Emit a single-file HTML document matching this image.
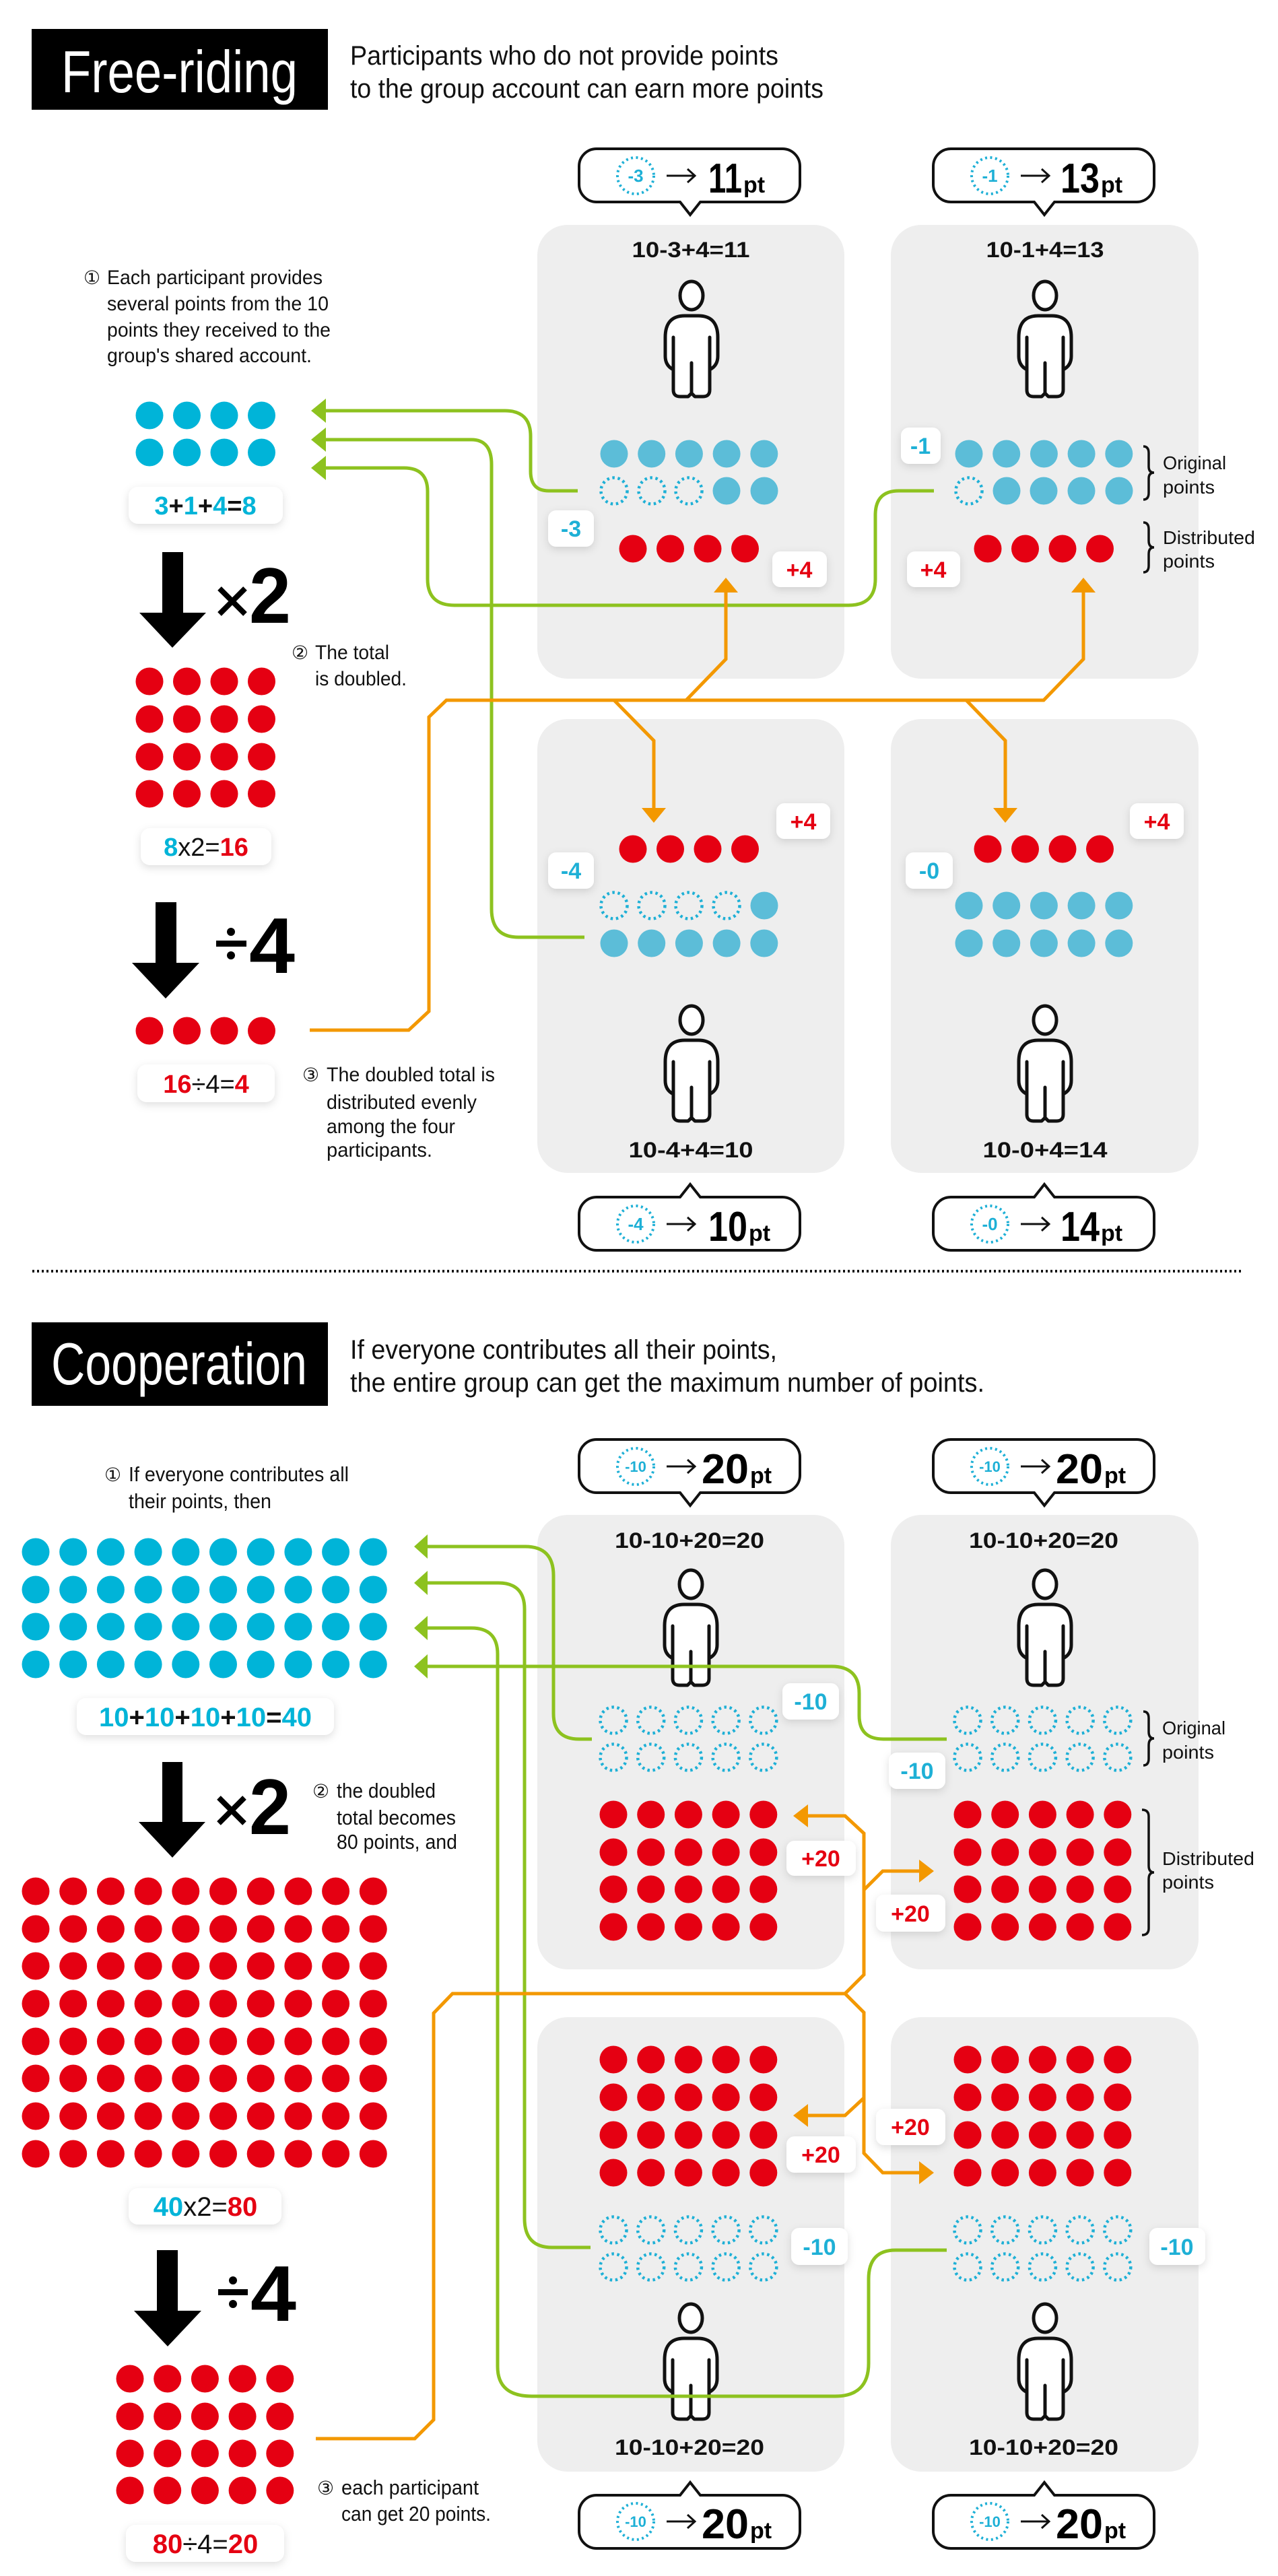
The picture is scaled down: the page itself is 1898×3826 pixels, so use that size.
<!DOCTYPE html>
<html><head><meta charset="utf-8"><style>
html,body{margin:0;padding:0;background:#fff}
svg{display:block}
text{font-family:"Liberation Sans","DejaVu Sans",sans-serif}
.c{font-family:"DejaVu Sans","Liberation Sans",sans-serif}
</style></head><body>
<svg width="1898" height="3826" viewBox="0 0 1898 3826" xmlns="http://www.w3.org/2000/svg">
<defs>
<filter id="sh" x="-30%" y="-40%" width="160%" height="180%"><feDropShadow dx="0" dy="4" stdDeviation="6" flood-color="#000" flood-opacity="0.13"/></filter>
<circle id="b" r="20.5" fill="#00b4d8"/>
<circle id="lb" r="20.5" fill="#5cbdd8"/>
<circle id="r" r="20.5" fill="#e50012"/>
<circle id="d" r="19.5" fill="none" stroke="#1eb0d6" stroke-width="4.5" stroke-dasharray="3.5 4.6"/>
<g id="R4"><use href="#r" x="0"/><use href="#r" x="55.5"/><use href="#r" x="111"/><use href="#r" x="166.5"/></g>
<g id="B4"><use href="#b" x="0"/><use href="#b" x="55.5"/><use href="#b" x="111"/><use href="#b" x="166.5"/></g>
<g id="R5"><use href="#r" x="0"/><use href="#r" x="55.7"/><use href="#r" x="111.4"/><use href="#r" x="167.1"/><use href="#r" x="222.8"/></g>
<g id="LB5"><use href="#lb" x="0"/><use href="#lb" x="55.7"/><use href="#lb" x="111.4"/><use href="#lb" x="167.1"/><use href="#lb" x="222.8"/></g>
<g id="D5"><use href="#d" x="0"/><use href="#d" x="55.7"/><use href="#d" x="111.4"/><use href="#d" x="167.1"/><use href="#d" x="222.8"/></g>
<g id="R10"><use href="#R5" x="0"/><use href="#R5" x="278.5"/></g>
<g id="B10"><use href="#b" x="0"/><use href="#b" x="55.7"/><use href="#b" x="111.4"/><use href="#b" x="167.1"/><use href="#b" x="222.8"/><use href="#b" x="278.5"/><use href="#b" x="334.2"/><use href="#b" x="389.9"/><use href="#b" x="445.6"/><use href="#b" x="501.3"/></g>
<g id="P" fill="#fff" stroke="#111" stroke-width="5" stroke-linejoin="round" stroke-linecap="round">
<ellipse rx="17" ry="21"/>
<path d="M-39,62 Q-39,30 -10,30 H10 Q39,30 39,62 V90 Q39,104 27,110 V140 Q27,150 17,150 H5 L0,145 L-5,150 H-17 Q-27,150 -27,140 V110 Q-39,104 -39,90 Z"/>
<path d="M-27,62 V110 M27,62 V110 M0,100 V145" fill="none"/>
</g>
<path id="bub" d="M26,0 H302 A26,26 0 0 1 328,26 V53 A26,26 0 0 1 302,79 H180 L165,98 L150,79 H26 A26,26 0 0 1 0,53 V26 A26,26 0 0 1 26,0 Z" fill="#fff" stroke="#111" stroke-width="4"/>
<path id="arr" d="M0,0 H42 M31,-10 L42,0 L31,10" fill="none" stroke="#111" stroke-width="3"/>
<circle id="bc" r="27" fill="none" stroke="#1eb0d6" stroke-width="4" stroke-dasharray="3 4.5"/>
</defs>

<!-- ============ FREE-RIDING ============ -->
<rect x="47" y="43" width="440" height="120" fill="#000"/>
<text x="91" y="137" font-size="88" fill="#fff" textLength="351" lengthAdjust="spacingAndGlyphs">Free-riding</text>
<text x="520" y="96" font-size="40" fill="#111" textLength="636" lengthAdjust="spacingAndGlyphs">Participants who do not provide points</text>
<text x="520" y="145" font-size="40" fill="#111" textLength="703" lengthAdjust="spacingAndGlyphs">to the group account can earn more points</text>

<use href="#bub" transform="translate(860,221)"/>
<use href="#bub" transform="translate(1386,221)"/>
<use href="#bub" transform="translate(860,1857) scale(1,-1)"/>
<use href="#bub" transform="translate(1386,1857) scale(1,-1)"/>
<g font-weight="bold">
<use href="#bc" x="944" y="261"/>
<text x="944" y="270" font-size="26" fill="#1eb0d6" text-anchor="middle">-3</text>
<use href="#arr" x="990" y="261"/>
<text x="1052" y="286" font-size="62" textLength="50" lengthAdjust="spacingAndGlyphs">11</text>
<text x="1104" y="286" font-size="34">pt</text>

<use href="#bc" x="1470" y="261"/>
<text x="1470" y="270" font-size="26" fill="#1eb0d6" text-anchor="middle">-1</text>
<use href="#arr" x="1516" y="261"/>
<text x="1575" y="286" font-size="62" textLength="58" lengthAdjust="spacingAndGlyphs">13</text>
<text x="1635" y="286" font-size="34">pt</text>

<use href="#bc" x="944" y="1818"/>
<text x="944" y="1827" font-size="26" fill="#1eb0d6" text-anchor="middle">-4</text>
<use href="#arr" x="990" y="1818"/>
<text x="1052" y="1843" font-size="62" textLength="58" lengthAdjust="spacingAndGlyphs">10</text>
<text x="1112" y="1843" font-size="34">pt</text>

<use href="#bc" x="1470" y="1818"/>
<text x="1470" y="1827" font-size="26" fill="#1eb0d6" text-anchor="middle">-0</text>
<use href="#arr" x="1516" y="1818"/>
<text x="1575" y="1843" font-size="62" textLength="58" lengthAdjust="spacingAndGlyphs">14</text>
<text x="1635" y="1843" font-size="34">pt</text>
</g>

<g fill="#eeeeee">
<rect x="798" y="334" width="456" height="674" rx="45"/>
<rect x="1323" y="334" width="457" height="674" rx="45"/>
<rect x="798" y="1068" width="456" height="674" rx="45"/>
<rect x="1323" y="1068" width="457" height="674" rx="45"/>
</g>
<g font-weight="bold" font-size="32" fill="#111" text-anchor="middle">
<text x="1026" y="382" textLength="175" lengthAdjust="spacingAndGlyphs">10-3+4=11</text>
<text x="1552" y="382" textLength="175" lengthAdjust="spacingAndGlyphs">10-1+4=13</text>
<text x="1026" y="1719" textLength="185" lengthAdjust="spacingAndGlyphs">10-4+4=10</text>
<text x="1552" y="1719" textLength="185" lengthAdjust="spacingAndGlyphs">10-0+4=14</text>
</g>
<use href="#P" x="1027" y="439"/>
<use href="#P" x="1552" y="439"/>
<use href="#P" x="1027" y="1515"/>
<use href="#P" x="1552" y="1515"/>

<use href="#LB5" x="912" y="674"/>
<use href="#d" x="912" y="729"/><use href="#d" x="968" y="729"/><use href="#d" x="1023" y="729"/><use href="#lb" x="1079" y="729"/><use href="#lb" x="1135" y="729"/>
<use href="#R4" x="940" y="815"/>
<use href="#LB5" x="1439" y="674"/>
<use href="#d" x="1439" y="729"/><use href="#lb" x="1495" y="729"/><use href="#lb" x="1550" y="729"/><use href="#lb" x="1606" y="729"/><use href="#lb" x="1662" y="729"/>
<use href="#R4" x="1467" y="815"/>
<use href="#R4" x="940" y="1261"/>
<use href="#d" x="912" y="1345"/><use href="#d" x="968" y="1345"/><use href="#d" x="1023" y="1345"/><use href="#d" x="1079" y="1345"/><use href="#lb" x="1135" y="1345"/>
<use href="#LB5" x="912" y="1401"/>
<use href="#R4" x="1467" y="1261"/>
<use href="#LB5" x="1439" y="1345"/>
<use href="#LB5" x="1439" y="1401"/>

<g fill="none" stroke="#111" stroke-width="3.5">
<path d="M1698,663 Q1706,663 1706,673 V693 Q1706,702 1714,702 Q1706,702 1706,711 V732 Q1706,742 1698,742"/>
<path d="M1698,776 Q1706,776 1706,786 V803 Q1706,813 1714,813 Q1706,813 1706,823 V840 Q1706,850 1698,850"/>
</g>
<g font-size="28" fill="#111">
<text x="1727" y="697" textLength="94" lengthAdjust="spacingAndGlyphs">Original</text>
<text x="1727" y="733" textLength="77" lengthAdjust="spacingAndGlyphs">points</text>
<text x="1727" y="808" textLength="137" lengthAdjust="spacingAndGlyphs">Distributed</text>
<text x="1727" y="843" textLength="77" lengthAdjust="spacingAndGlyphs">points</text>
</g>

<text class="c" x="124" y="422" font-size="28" fill="#111">①</text>
<g font-size="30" fill="#111">
<text x="159" y="422" textLength="320" lengthAdjust="spacingAndGlyphs">Each participant provides</text>
<text x="159" y="461" textLength="329" lengthAdjust="spacingAndGlyphs">several points from the 10</text>
<text x="159" y="500" textLength="332" lengthAdjust="spacingAndGlyphs">points they received to the</text>
<text x="159" y="538" textLength="304" lengthAdjust="spacingAndGlyphs">group's shared account.</text>
</g>
<use href="#B4" x="222" y="617"/>
<use href="#B4" x="222" y="672"/>
<rect x="191" y="723" width="229" height="55" rx="14" fill="#fff" filter="url(#sh)"/>
<text x="305" y="764" font-size="38" font-weight="bold" text-anchor="middle"><tspan fill="#00b4d8">3</tspan><tspan fill="#111">+</tspan><tspan fill="#00b4d8">1</tspan><tspan fill="#111">+</tspan><tspan fill="#00b4d8">4</tspan><tspan fill="#111">=</tspan><tspan fill="#00b4d8">8</tspan></text>
<polygon points="241,820 272,820 272,910 306,910 256,962 207,910 241,910" fill="#000"/>
<path d="M326,874 L364,912 M364,874 L326,912" stroke="#000" stroke-width="8"/>
<text x="370" y="925" font-size="117" font-weight="bold" fill="#000" textLength="62" lengthAdjust="spacingAndGlyphs">2</text>
<text class="c" x="433" y="979" font-size="28" fill="#111">②</text>
<g font-size="30" fill="#111">
<text x="468" y="979" textLength="110" lengthAdjust="spacingAndGlyphs">The total</text>
<text x="468" y="1018" textLength="136" lengthAdjust="spacingAndGlyphs">is doubled.</text>
</g>
<use href="#R4" x="222" y="1012"/>
<use href="#R4" x="222" y="1068"/>
<use href="#R4" x="222" y="1124"/>
<use href="#R4" x="222" y="1179"/>
<rect x="209" y="1230" width="194" height="55" rx="14" fill="#fff" filter="url(#sh)"/>
<text x="306" y="1271" font-size="38" text-anchor="middle"><tspan fill="#00b4d8" font-weight="bold">8</tspan><tspan fill="#111">x2=</tspan><tspan fill="#e50012" font-weight="bold">16</tspan></text>
<polygon points="231,1340 262,1340 262,1430 296,1430 246,1483 196,1430 231,1430" fill="#000"/>
<g fill="#000"><rect x="321" y="1397" width="45" height="9"/><circle cx="343" cy="1384" r="6"/><circle cx="343" cy="1419" r="6"/></g>
<text x="370" y="1445" font-size="117" font-weight="bold" fill="#000" textLength="68" lengthAdjust="spacingAndGlyphs">4</text>
<use href="#R4" x="222" y="1531"/>
<rect x="204" y="1581" width="204" height="56" rx="14" fill="#fff" filter="url(#sh)"/>
<text x="306" y="1623" font-size="38" text-anchor="middle"><tspan fill="#e50012" font-weight="bold">16</tspan><tspan fill="#111">÷4=</tspan><tspan fill="#e50012" font-weight="bold">4</tspan></text>
<text class="c" x="449" y="1606" font-size="28" fill="#111">③</text>
<g font-size="30" fill="#111">
<text x="485" y="1606" textLength="250" lengthAdjust="spacingAndGlyphs">The doubled total is</text>
<text x="485" y="1647" textLength="223" lengthAdjust="spacingAndGlyphs">distributed evenly</text>
<text x="485" y="1683" textLength="191" lengthAdjust="spacingAndGlyphs">among the four</text>
<text x="485" y="1718" textLength="157" lengthAdjust="spacingAndGlyphs">participants.</text>
</g>

<g fill="none" stroke="#8dc21f" stroke-width="5">
<path d="M480,610 H750 Q788,610 788,648 V700 Q788,729 815,729 H858"/>
<path d="M480,653 H700 Q730,653 730,690 V1350 Q730,1392 770,1392 H868"/>
<path d="M480,695 H600 Q635,695 635,730 V860 Q635,899 675,899 H1260 Q1300,899 1300,860 V765 Q1300,729 1335,729 H1387"/>
</g>
<g fill="#8dc21f">
<polygon points="462,610 484,592 484,628"/>
<polygon points="462,653 484,635 484,671"/>
<polygon points="462,695 484,677 484,713"/>
</g>
<g fill="none" stroke="#f39800" stroke-width="5">
<path d="M460,1530 H607 L637,1502 V1065 L663,1040 H1550 L1609,979 V878"/>
<path d="M1019,1040 L1078,979 V878"/>
<path d="M912,1040 L971,1100 V1202"/>
<path d="M1435,1040 L1493,1100 V1202"/>
</g>
<g fill="#f39800">
<polygon points="1078,858 1096,880 1060,880"/>
<polygon points="1609,858 1627,880 1591,880"/>
<polygon points="971,1222 989,1200 953,1200"/>
<polygon points="1493,1222 1511,1200 1475,1200"/>
</g>

<g filter="url(#sh)" fill="#fff">
<rect x="814" y="758" width="68" height="54" rx="12"/>
<rect x="1147" y="819" width="81" height="53" rx="12"/>
<rect x="1338" y="635" width="59" height="54" rx="12"/>
<rect x="1347" y="819" width="79" height="53" rx="12"/>
<rect x="1153" y="1193" width="80" height="53" rx="12"/>
<rect x="814" y="1266" width="68" height="54" rx="12"/>
<rect x="1678" y="1193" width="80" height="53" rx="12"/>
<rect x="1345" y="1266" width="70" height="54" rx="12"/>
</g>
<g font-size="34" font-weight="bold" text-anchor="middle">
<text x="848" y="797" fill="#1eb0d6">-3</text>
<text x="1187" y="858" fill="#e50012">+4</text>
<text x="1367" y="674" fill="#1eb0d6">-1</text>
<text x="1386" y="858" fill="#e50012">+4</text>
<text x="1193" y="1232" fill="#e50012">+4</text>
<text x="848" y="1305" fill="#1eb0d6">-4</text>
<text x="1718" y="1232" fill="#e50012">+4</text>
<text x="1380" y="1305" fill="#1eb0d6">-0</text>
</g>

<line x1="48" y1="1888" x2="1846" y2="1888" stroke="#111" stroke-width="4" stroke-dasharray="3 4"/>

<!-- ============ COOPERATION ============ -->
<rect x="47" y="1964" width="440" height="124" fill="#000"/>
<text x="76" y="2056" font-size="88" fill="#fff" textLength="380" lengthAdjust="spacingAndGlyphs">Cooperation</text>
<text x="520" y="2018" font-size="40" fill="#111" textLength="634" lengthAdjust="spacingAndGlyphs">If everyone contributes all their points,</text>
<text x="520" y="2067" font-size="40" fill="#111" textLength="942" lengthAdjust="spacingAndGlyphs">the entire group can get the maximum number of points.</text>

<use href="#bub" transform="translate(860,2138)"/>
<use href="#bub" transform="translate(1386,2138)"/>
<use href="#bub" transform="translate(860,3785) scale(1,-1)"/>
<use href="#bub" transform="translate(1386,3785) scale(1,-1)"/>
<g font-weight="bold">
<use href="#bc" x="944" y="2178"/>
<text x="944" y="2186" font-size="22" fill="#1eb0d6" text-anchor="middle">-10</text>
<use href="#arr" x="990" y="2178"/>
<text x="1042" y="2203" font-size="62" textLength="70" lengthAdjust="spacingAndGlyphs">20</text>
<text x="1114" y="2203" font-size="34">pt</text>
<use href="#bc" x="1470" y="2178"/>
<text x="1470" y="2186" font-size="22" fill="#1eb0d6" text-anchor="middle">-10</text>
<use href="#arr" x="1516" y="2178"/>
<text x="1568" y="2203" font-size="62" textLength="70" lengthAdjust="spacingAndGlyphs">20</text>
<text x="1640" y="2203" font-size="34">pt</text>
<use href="#bc" x="944" y="3745"/>
<text x="944" y="3753" font-size="22" fill="#1eb0d6" text-anchor="middle">-10</text>
<use href="#arr" x="990" y="3745"/>
<text x="1042" y="3770" font-size="62" textLength="70" lengthAdjust="spacingAndGlyphs">20</text>
<text x="1114" y="3770" font-size="34">pt</text>
<use href="#bc" x="1470" y="3745"/>
<text x="1470" y="3753" font-size="22" fill="#1eb0d6" text-anchor="middle">-10</text>
<use href="#arr" x="1516" y="3745"/>
<text x="1568" y="3770" font-size="62" textLength="70" lengthAdjust="spacingAndGlyphs">20</text>
<text x="1640" y="3770" font-size="34">pt</text>
</g>

<g fill="#eeeeee">
<rect x="798" y="2250" width="456" height="675" rx="45"/>
<rect x="1323" y="2250" width="457" height="675" rx="45"/>
<rect x="798" y="2996" width="456" height="675" rx="45"/>
<rect x="1323" y="2996" width="457" height="675" rx="45"/>
</g>
<g font-weight="bold" font-size="32" fill="#111" text-anchor="middle">
<text x="1024" y="2299" textLength="222" lengthAdjust="spacingAndGlyphs">10-10+20=20</text>
<text x="1550" y="2299" textLength="222" lengthAdjust="spacingAndGlyphs">10-10+20=20</text>
<text x="1024" y="3646" textLength="222" lengthAdjust="spacingAndGlyphs">10-10+20=20</text>
<text x="1550" y="3646" textLength="222" lengthAdjust="spacingAndGlyphs">10-10+20=20</text>
</g>
<use href="#P" x="1026" y="2353"/>
<use href="#P" x="1552" y="2353"/>
<use href="#P" x="1026" y="3443"/>
<use href="#P" x="1552" y="3443"/>

<use href="#D5" x="911" y="2555"/><use href="#D5" x="911" y="2610"/>
<use href="#R5" x="911" y="2695"/><use href="#R5" x="911" y="2751"/><use href="#R5" x="911" y="2806"/><use href="#R5" x="911" y="2862"/>
<use href="#D5" x="1437" y="2555"/><use href="#D5" x="1437" y="2610"/>
<use href="#R5" x="1437" y="2695"/><use href="#R5" x="1437" y="2751"/><use href="#R5" x="1437" y="2806"/><use href="#R5" x="1437" y="2862"/>
<use href="#R5" x="911" y="3059"/><use href="#R5" x="911" y="3115"/><use href="#R5" x="911" y="3171"/><use href="#R5" x="911" y="3227"/>
<use href="#D5" x="911" y="3312"/><use href="#D5" x="911" y="3367"/>
<use href="#R5" x="1437" y="3059"/><use href="#R5" x="1437" y="3115"/><use href="#R5" x="1437" y="3171"/><use href="#R5" x="1437" y="3227"/>
<use href="#D5" x="1437" y="3312"/><use href="#D5" x="1437" y="3367"/>

<g fill="none" stroke="#111" stroke-width="3.5">
<path d="M1698,2542 Q1706,2542 1706,2552 V2572 Q1706,2582 1714,2582 Q1706,2582 1706,2592 V2612 Q1706,2622 1698,2622"/>
<path d="M1696,2688 Q1706,2688 1706,2698 V2771 Q1706,2781 1714,2781 Q1706,2781 1706,2791 V2864 Q1706,2874 1696,2874"/>
</g>
<g font-size="28" fill="#111">
<text x="1726" y="2576" textLength="94" lengthAdjust="spacingAndGlyphs">Original</text>
<text x="1726" y="2612" textLength="77" lengthAdjust="spacingAndGlyphs">points</text>
<text x="1726" y="2770" textLength="137" lengthAdjust="spacingAndGlyphs">Distributed</text>
<text x="1726" y="2805" textLength="77" lengthAdjust="spacingAndGlyphs">points</text>
</g>

<text class="c" x="155" y="2200" font-size="28" fill="#111">①</text>
<g font-size="31" fill="#111">
<text x="191" y="2200" textLength="327" lengthAdjust="spacingAndGlyphs">If everyone contributes all</text>
<text x="191" y="2240" textLength="212" lengthAdjust="spacingAndGlyphs">their points, then</text>
</g>
<use href="#B10" x="53" y="2305"/><use href="#B10" x="53" y="2361"/><use href="#B10" x="53" y="2416"/><use href="#B10" x="53" y="2472"/>
<rect x="114" y="2522" width="382" height="55" rx="14" fill="#fff" filter="url(#sh)"/>
<text x="305" y="2564" font-size="40" font-weight="bold" text-anchor="middle"><tspan fill="#00b4d8">10</tspan><tspan fill="#111">+</tspan><tspan fill="#00b4d8">10</tspan><tspan fill="#111">+</tspan><tspan fill="#00b4d8">10</tspan><tspan fill="#111">+</tspan><tspan fill="#00b4d8">10</tspan><tspan fill="#111">=</tspan><tspan fill="#00b4d8">40</tspan></text>
<polygon points="241,2617 271,2617 271,2706 305,2706 256,2759 206,2706 241,2706" fill="#000"/>
<path d="M325,2670 L363,2708 M363,2670 L325,2708" stroke="#000" stroke-width="8"/>
<text x="370" y="2724" font-size="117" font-weight="bold" fill="#000" textLength="62" lengthAdjust="spacingAndGlyphs">2</text>
<text class="c" x="464" y="2670" font-size="28" fill="#111">②</text>
<g font-size="31" fill="#111">
<text x="500" y="2670" textLength="147" lengthAdjust="spacingAndGlyphs">the doubled</text>
<text x="500" y="2710" textLength="177" lengthAdjust="spacingAndGlyphs">total becomes</text>
<text x="500" y="2746" textLength="179" lengthAdjust="spacingAndGlyphs">80 points, and</text>
</g>
<use href="#R10" x="53" y="2809"/><use href="#R10" x="53" y="2865"/><use href="#R10" x="53" y="2920"/><use href="#R10" x="53" y="2976"/>
<use href="#R10" x="53" y="3032"/><use href="#R10" x="53" y="3087"/><use href="#R10" x="53" y="3143"/><use href="#R10" x="53" y="3199"/>
<rect x="191" y="3250" width="227" height="54" rx="14" fill="#fff" filter="url(#sh)"/>
<text x="305" y="3291" font-size="40" text-anchor="middle"><tspan fill="#00b4d8" font-weight="bold">40</tspan><tspan fill="#111">x2=</tspan><tspan fill="#e50012" font-weight="bold">80</tspan></text>
<polygon points="233,3342 264,3342 264,3432 299,3432 249,3485 199,3432 233,3432" fill="#000"/>
<g fill="#000"><rect x="324" y="3400" width="44" height="9"/><circle cx="346" cy="3387" r="6"/><circle cx="346" cy="3422" r="6"/></g>
<text x="372" y="3447" font-size="117" font-weight="bold" fill="#000" textLength="68" lengthAdjust="spacingAndGlyphs">4</text>
<use href="#R5" x="193" y="3533"/><use href="#R5" x="193" y="3589"/><use href="#R5" x="193" y="3644"/><use href="#R5" x="193" y="3699"/>
<rect x="187" y="3750" width="235" height="55" rx="14" fill="#fff" filter="url(#sh)"/>
<text x="305" y="3792" font-size="40" text-anchor="middle"><tspan fill="#e50012" font-weight="bold">80</tspan><tspan fill="#111">÷4=</tspan><tspan fill="#e50012" font-weight="bold">20</tspan></text>
<text class="c" x="471" y="3705" font-size="28" fill="#111">③</text>
<g font-size="31" fill="#111">
<text x="507" y="3705" textLength="204" lengthAdjust="spacingAndGlyphs">each participant</text>
<text x="507" y="3744" textLength="222" lengthAdjust="spacingAndGlyphs">can get 20 points.</text>
</g>

<g fill="none" stroke="#8dc21f" stroke-width="5">
<path d="M633,2297 H780 Q822,2297 822,2340 V2545 Q822,2583 860,2583 H879"/>
<path d="M633,2351 H740 Q779,2351 779,2390 V3295 Q779,3338 820,3338 H877"/>
<path d="M633,2418 H700 Q739,2418 739,2457 V3515 Q739,3559 790,3559 H1240 Q1290,3559 1290,3510 V3385 Q1290,3342 1330,3342 H1406"/>
<path d="M633,2475 H1235 Q1276,2475 1276,2515 V2548 Q1276,2583 1312,2583 H1406"/>
</g>
<g fill="#8dc21f">
<polygon points="615,2297 635,2279 635,2315"/>
<polygon points="615,2351 635,2333 635,2369"/>
<polygon points="615,2418 635,2400 635,2436"/>
<polygon points="615,2475 635,2457 635,2493"/>
</g>
<g fill="none" stroke="#f39800" stroke-width="5">
<path d="M469,3622 H616 L644,3594 V2990 L672,2961 H1255 L1283,2933 V2723 L1255,2697 H1198"/>
<path d="M1255,2961 L1283,2989 V3116 L1255,3142 H1198"/>
<path d="M1283,2807 L1311,2779 H1367"/>
<path d="M1283,3116 V3198 L1311,3227 H1367"/>
</g>
<g fill="#f39800">
<polygon points="1178,2697 1200,2680 1200,2714"/>
<polygon points="1178,3142 1200,3125 1200,3159"/>
<polygon points="1387,2779 1365,2762 1365,2796"/>
<polygon points="1387,3227 1365,3210 1365,3244"/>
</g>

<g filter="url(#sh)" fill="#fff">
<rect x="1162" y="2500" width="84" height="54" rx="12"/>
<rect x="1320" y="2603" width="84" height="54" rx="12"/>
<rect x="1168" y="2734" width="103" height="52" rx="12"/>
<rect x="1301" y="2814" width="103" height="55" rx="12"/>
<rect x="1168" y="3173" width="103" height="54" rx="12"/>
<rect x="1301" y="3132" width="103" height="54" rx="12"/>
<rect x="1175" y="3309" width="84" height="55" rx="12"/>
<rect x="1707" y="3309" width="83" height="55" rx="12"/>
</g>
<g font-size="34" font-weight="bold" text-anchor="middle">
<text x="1204" y="2539" fill="#1eb0d6">-10</text>
<text x="1362" y="2642" fill="#1eb0d6">-10</text>
<text x="1219" y="2772" fill="#e50012">+20</text>
<text x="1352" y="2854" fill="#e50012">+20</text>
<text x="1219" y="3212" fill="#e50012">+20</text>
<text x="1352" y="3171" fill="#e50012">+20</text>
<text x="1217" y="3349" fill="#1eb0d6">-10</text>
<text x="1748" y="3349" fill="#1eb0d6">-10</text>
</g>
</svg>
</body></html>
